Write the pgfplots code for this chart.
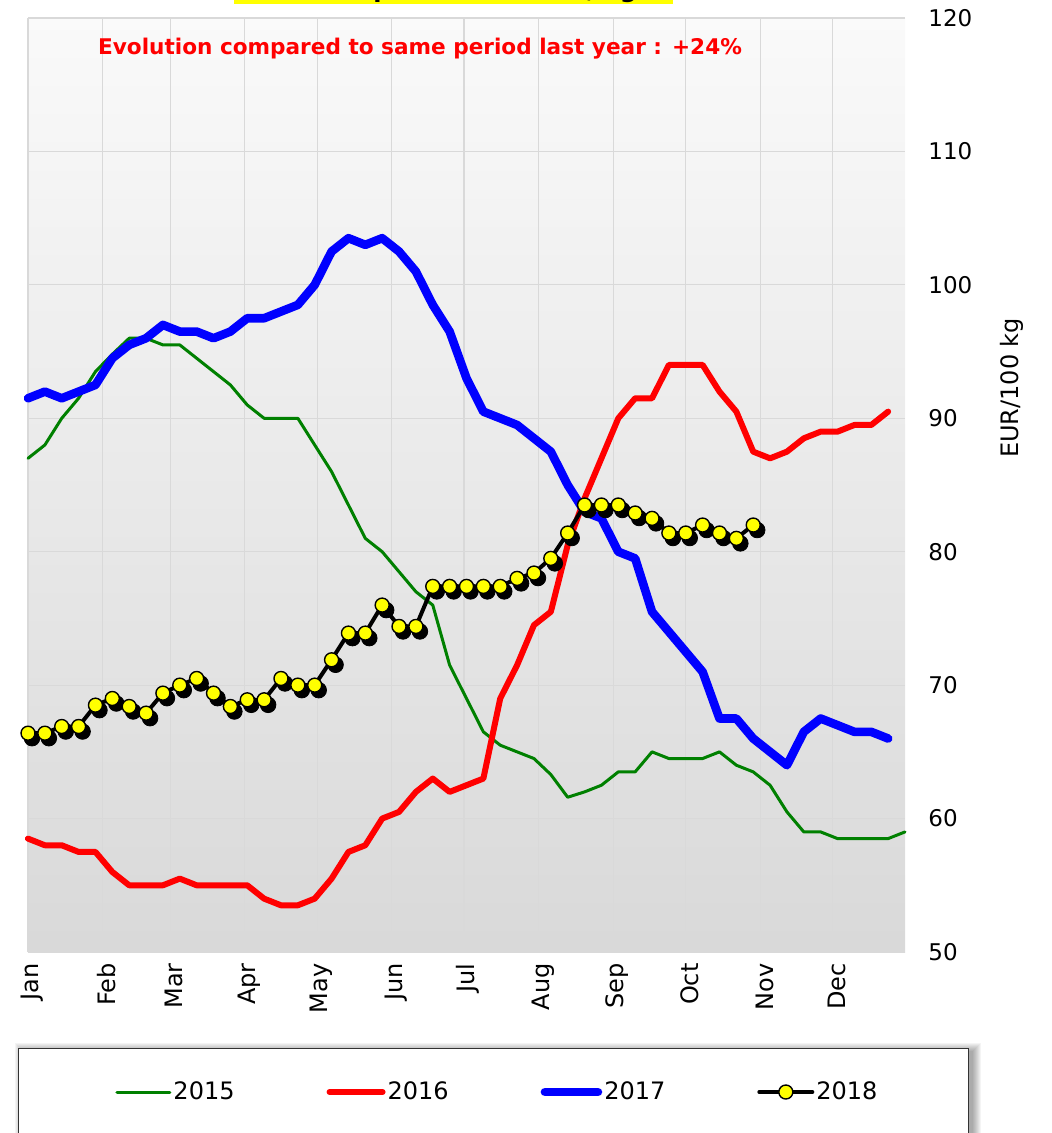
\documentclass[border=0pt]{standalone}
\usepackage{fontspec}
\setmainfont{DejaVu Sans}
\usepackage{pgfplots}
\usepackage{pgfplotstable}
\pgfplotsset{compat=1.18}

\definecolor{cgreen}{HTML}{008000}
\definecolor{cred}{HTML}{FF0000}
\definecolor{cblue}{HTML}{0000FF}
\definecolor{cyellow}{HTML}{FFFF00}

% week of year, EUR/100 kg
\pgfplotstableread{
w v
0 87.0
1 88.0
2 90.0
3 91.5
4 93.5
5 94.8
6 96.0
7 96.0
8 95.5
9 95.5
10 94.5
11 93.5
12 92.5
13 91.0
14 90.0
15 90.0
16 90.0
17 88.0
18 86.0
19 83.5
20 81.0
21 80.0
22 78.5
23 77.0
24 76.0
25 71.5
26 69.0
27 66.5
28 65.5
29 65.0
30 64.5
31 63.3
32 61.6
33 62.0
34 62.5
35 63.5
36 63.5
37 65.0
38 64.5
39 64.5
40 64.5
41 65.0
42 64.0
43 63.5
44 62.5
45 60.5
46 59.0
47 59.0
48 58.5
49 58.5
50 58.5
51 58.5
52 59.0
}\dataA

\pgfplotstableread{
w v
0 58.5
1 58.0
2 58.0
3 57.5
4 57.5
5 56.0
6 55.0
7 55.0
8 55.0
9 55.5
10 55.0
11 55.0
12 55.0
13 55.0
14 54.0
15 53.5
16 53.5
17 54.0
18 55.5
19 57.5
20 58.0
21 60.0
22 60.5
23 62.0
24 63.0
25 62.0
26 62.5
27 63.0
28 69.0
29 71.5
30 74.5
31 75.5
32 80.5
33 84.0
34 87.0
35 90.0
36 91.5
37 91.5
38 94.0
39 94.0
40 94.0
41 92.0
42 90.5
43 87.5
44 87.0
45 87.5
46 88.5
47 89.0
48 89.0
49 89.5
50 89.5
51 90.5
}\dataB

\pgfplotstableread{
w v
0 91.5
1 92.0
2 91.5
3 92.0
4 92.5
5 94.5
6 95.5
7 96.0
8 97.0
9 96.5
10 96.5
11 96.0
12 96.5
13 97.5
14 97.5
15 98.0
16 98.5
17 100.0
18 102.5
19 103.5
20 103.0
21 103.5
22 102.5
23 101.0
24 98.5
25 96.5
26 93.0
27 90.5
28 90.0
29 89.5
30 88.5
31 87.5
32 85.0
33 83.0
34 82.5
35 80.0
36 79.5
37 75.5
38 74.0
39 72.5
40 71.0
41 67.5
42 67.5
43 66.0
44 65.0
45 64.0
46 66.5
47 67.5
48 67.0
49 66.5
50 66.5
51 66.0
}\dataC

\pgfplotstableread{
w v
0 66.4
1 66.4
2 66.9
3 66.9
4 68.5
5 69.0
6 68.4
7 67.9
8 69.4
9 70.0
10 70.5
11 69.4
12 68.4
13 68.9
14 68.9
15 70.5
16 70.0
17 70.0
18 71.9
19 73.9
20 73.9
21 76.0
22 74.4
23 74.4
24 77.4
25 77.4
26 77.4
27 77.4
28 77.4
29 78.0
30 78.4
31 79.5
32 81.4
33 83.5
34 83.5
35 83.5
36 82.9
37 82.5
38 81.4
39 81.4
40 82.0
41 81.4
42 81.0
43 82.0
}\dataD

\begin{document}
\begin{tikzpicture}
\useasboundingbox (0pt,0pt) rectangle (525.5pt,-566.5pt);

% title strip, mostly above the page
\node[fill=cyellow, anchor=south, minimum width=219.5pt, inner ysep=0.8pt,
  font=\fontsize{12}{14}\selectfont\bfseries] at (226.75pt,-2.3pt) {Market prices in the EU, kg};

% legend frame with soft shadow
\foreach \r in {0,0.5,...,4} {
  \fill[black, opacity=0.045] (11.5pt-\r,-525.5pt+\r) rectangle (486.5pt+\r,-571.5pt-\r);
}
\fill[white] (9pt,-524pt) rectangle (484pt,-570pt);
\draw[black!80, line width=0.5pt] (9pt,-524pt) rectangle (484pt,-570pt);

\begin{axis}[
  at={(14pt,-476pt)}, anchor=south west,
  scale only axis, width=438.5pt, height=467pt,
  xmin=0, xmax=52, ymin=50, ymax=120,
  clip=false,
  xtick={0,4.4286,8.4286,12.857,17.143,21.571,25.857,30.286,34.714,39,43.429,47.714},
  xticklabels={Jan,Feb,Mar,Apr,May,Jun,Jul,Aug,Sep,Oct,Nov,Dec},
  ytick={50,60,...,120},
  yticklabel pos=right,
  grid=major,
  major grid style={color=black!15, line width=0.6pt},
  axis line style={draw=none},
  major tick length=0pt,
  /pgf/number format/assume math mode=true,
  tick label style={font=\fontsize{11.5}{13}\selectfont},
  xticklabel style={xshift=2pt, rotate=90, anchor=east, inner sep=0pt, font=\fontsize{12}{14}\selectfont},
  xticklabel shift=5.5pt,
  yticklabel style={anchor=west, inner sep=0pt, xshift=11.5pt},
  ylabel={EUR/100 kg},
  ylabel style={at={(axis description cs:1.122,0.604)}, anchor=center, font=\fontsize{12}{14}\selectfont},
  axis background/.style={shade, top color=black!2, bottom color=black!15},
  legend columns=4,
  legend style={at={(axis description cs:0.5353,-0.1499)}, anchor=center,
    draw=none, fill=none, font=\fontsize{12}{14}\selectfont,
    nodes={inner sep=1pt},
    /tikz/every even column/.append style={column sep=45pt}},
  legend image code/.code={\draw[mark repeat=2,mark phase=2,#1] plot coordinates {(0pt,0pt) (13.25pt,0pt) (26.5pt,0pt)};},
  every axis plot/.append style={line cap=round, line join=round},
]
\addplot[cgreen, line width=1.5pt, no markers] table[x=w,y=v] {\dataA};
\addlegendentry{2015}
\addplot[cred, line width=3pt, no markers] table[x=w,y=v] {\dataB};
\addlegendentry{2016}
\addplot[cblue, line width=4.3pt, no markers] table[x=w,y=v] {\dataC};
\addlegendentry{2017}
\addplot[forget plot, only marks, mark=*, mark size=3.9pt, black,
  mark options={xshift=2pt, yshift=-2.5pt}] table[x=w,y=v] {\dataD};
\addplot[black, line width=2pt, mark=*, mark size=3.5pt,
  mark options={fill=cyellow, draw=black, line width=0.7pt}] table[x=w,y=v] {\dataD};
\addlegendentry{2018}
\end{axis}

\node[text=cred, font=\fontsize{10.8}{13}\selectfont\bfseries] at (210pt,-24.5pt)
  {Evolution compared to same period last year : +24\%};
\end{tikzpicture}
\end{document}
